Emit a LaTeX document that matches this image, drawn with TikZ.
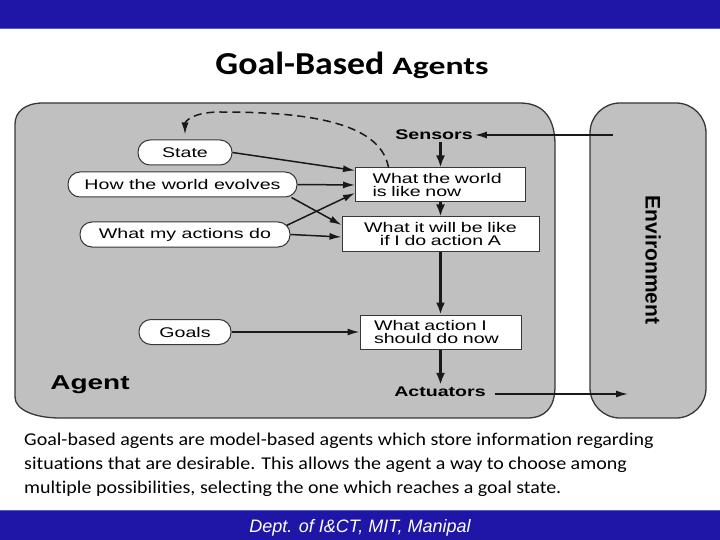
\documentclass[tikz,border=0pt]{standalone}
\usepackage{fontspec}
\setmainfont{Carlito}
\newfontfamily\diag[FakeStretch=1.4]{Liberation Sans}
\newfontfamily\plainsans{Liberation Sans}
\newfontfamily\titlea[FakeStretch=1.12]{Carlito}
\newfontfamily\titleb[FakeStretch=1.35]{Carlito}
\newfontfamily\parafont[FakeStretch=1.11, Ligatures=NoCommon]{Carlito}
\usetikzlibrary{arrows.meta}
\definecolor{barblue}{RGB}{31,22,168}
\definecolor{barline}{RGB}{80,95,200}
\definecolor{panel}{RGB}{192,192,192}
\definecolor{edge}{RGB}{55,55,55}
\definecolor{ink}{RGB}{25,25,25}
\tikzset{
  ell/.style={rectangle, rounded corners=12pt, draw=edge, fill=white, line width=1pt,
    inner sep=0pt, minimum height=25pt, font=\diag\fontsize{14}{14}\selectfont},
  rbox/.style={rectangle, draw=edge, fill=white, line width=1pt, minimum height=34pt,
    inner ysep=0pt, font=\diag\fontsize{14}{13}\selectfont},
  conn/.style={draw=ink, line width=1.5pt, -{Latex[length=12pt,width=7pt]}},
  vconn/.style={conn, line width=2.6pt, -{Latex[length=12pt,width=9pt]}},
  dconn/.style={conn, dash pattern=on 8pt off 5pt},
  lbl/.style={inner sep=2pt, font=\diag\bfseries\fontsize{14}{14}\selectfont},
  para/.style={inner sep=0pt, anchor=base west, font=\parafont\fontsize{18}{24}\selectfont}
}
\begin{document}
\begin{tikzpicture}[x=1pt,y=-1pt]
\useasboundingbox (0,0) rectangle (720,540);
% bars
\fill[barblue] (0,0) rectangle (720,28.5);
\draw[barline, line width=1pt] (0,28.5) -- (720,28.5);
\fill[barblue] (0,510) rectangle (720,540);
\draw[barline, line width=1pt] (0,510) -- (720,510);
% title
\node[anchor=base, inner sep=0pt] (title) at (352,75)
  {\bfseries\titlea\fontsize{32}{32}\selectfont Goal-Based \titleb\fontsize{25}{25}\selectfont Agents};
% agent panel
\path[fill=panel, draw=edge, line width=1.3pt]
  (43,103) -- (520,103) .. controls (545,103) and (555,120) .. (555,145)
  -- (555,386) .. controls (555,408) and (545,418) .. (527,418)
  -- (60,418) .. controls (35,418) and (15,410) .. (15,397)
  -- (15,124) .. controls (15,112) and (25,103) .. (43,103) -- cycle;
% environment panel
\node[rectangle, rounded corners=30pt, fill=panel, draw=edge, line width=1.3pt,
  minimum width=116pt, minimum height=315pt, inner sep=0pt] (env) at (648,260.5) {};
\node[rotate=-90, inner sep=0pt, font=\plainsans\bfseries\fontsize{21}{21}\selectfont]
  (envt) at (653,260) {Environment};
% ellipses
\node[ell, minimum width=94pt] (st) at (185,152.5) {State};
\node[ell, minimum width=229pt] (ev) at (182.5,184.5) {How the world evolves};
\node[ell, minimum width=210pt] (ac) at (185,234.5) {What my actions do};
\node[ell, minimum width=92pt] (gl) at (185,332) {Goals};
% boxes
\node[rbox, inner xsep=17pt, text width=136pt, align=left] (b1) at (440.5,185) {What the world\\is like now};
\node[rbox, inner xsep=10pt, text width=177pt, align=center] (b2) at (440.5,234) {What it will be like\\if I do action A};
\node[rbox, inner xsep=14pt, text width=133pt, align=left] (b3) at (440.5,332) {What action I\\should do now};
% labels
\node[lbl] (sens) at (434,135) {Sensors};
\node[lbl] (act) at (440,392) {Actuators};
\node[inner sep=0pt, font=\diag\bfseries\fontsize{20}{20}\selectfont] (agt) at (90,385) {Agent};
% free ends inside the environment
\coordinate (senv) at (613,135);
\coordinate (aenv) at (628,394);
% connectors
\draw[conn] (senv) -- (sens.east);
\draw[conn] ([xshift=7pt]act.east |- aenv) -- (aenv);
\draw[vconn] (b1.north |- sens.south) -- (b1.north);
\draw[vconn] (b1.south) -- (b2.north);
\draw[vconn] (b2.south) -- (b3.north);
\draw[vconn] (b3.south) -- (b3.south |- act.north);
\draw[conn] (st.east) -- ([yshift=-3pt]b1.north west);
\draw[conn] (ev.east) -- (b1.west);
\draw[conn] ([xshift=-6pt]ev.south east) -- ([yshift=9pt]b2.west);
\draw[conn] ([xshift=-4pt,yshift=-4pt]ac.north east) -- ([yshift=-8pt]b1.west);
\draw[conn] (ac.east) -- ([yshift=-3pt]b2.west);
\draw[conn] (gl.east) -- (b3.west);
\draw[dconn, shorten >=5pt] ([xshift=-52pt]b1.north) .. controls (380,120) and (300,112) .. (220,112)
  .. controls (192,112) and (185,122) .. (st.north);
% paragraph
\node[para] (p1) at (24,445) {Goal-based agents are model-based agents which store information regarding};
\node[para] (p2) at (24,469) {situations that are desirable. This allows the agent a way to choose among};
\node[para] (p3) at (24,493) {multiple possibilities, selecting the one which reaches a goal state.};
% footer
\node[anchor=base, inner sep=0pt, text=white, font=\plainsans\itshape\fontsize{18}{18}\selectfont]
  (foot) at (360,532) {Dept. of I\&CT, MIT, Manipal};
\end{tikzpicture}
\end{document}
